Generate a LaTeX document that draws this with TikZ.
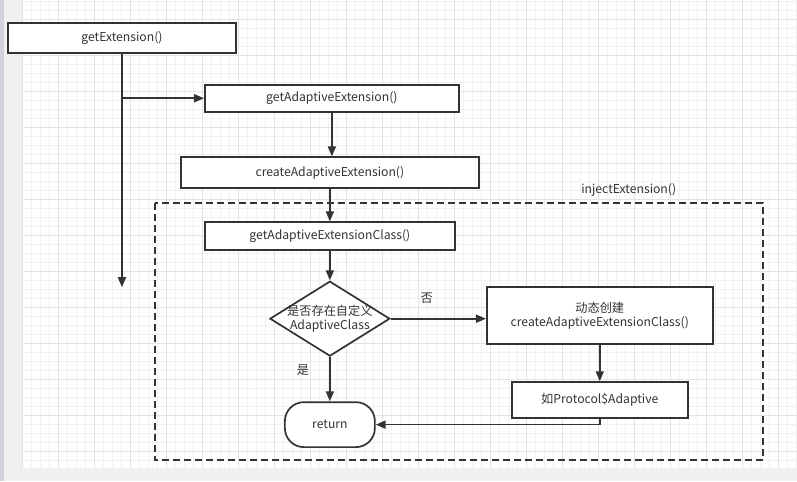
\documentclass[tikz,border=0pt]{standalone}
\usepackage{fontspec}
\setmainfont{Noto Sans CJK SC}
\usepackage{xcolor}
\usepackage{tikz}
\usetikzlibrary{arrows.meta,shapes.geometric}
\definecolor{ink}{HTML}{333333}
\definecolor{page}{HTML}{F0F0F0}
\definecolor{edge}{HTML}{D2D2D8}
\definecolor{gridf}{HTML}{F1F1F1}
\definecolor{gridc}{HTML}{E3E3E3}
\tikzset{
  box/.style={draw=ink, line width=1.7pt, fill=white, inner sep=0pt},
  dia/.style={diamond, draw=ink, line width=1.7pt, fill=white, inner sep=0pt},
  rnd/.style={draw=ink, line width=1.7pt, fill=white, rounded corners=19pt, inner sep=0pt},
  arr/.style={draw=ink, line width=1.7pt, -{Triangle[length=10pt,width=8pt]}},
  frame/.style={draw=ink, line width=1.7pt, dash pattern=on 7pt off 4pt},
  lab/.style={text=ink, font=\fontsize{12.2}{14}\selectfont},
  every node/.style={text=ink, font=\fontsize{12.2}{14}\selectfont}
}
\begin{document}
\begin{tikzpicture}[x=1pt,y=-1pt]
  % page and grid
  \fill[page] (0,0) rectangle (797,481);
  \fill[edge] (0,0) rectangle (4,481);
  \fill[white] (22.7,0) rectangle (797,468);
  \foreach \i in {0,...,86} {
    \draw[gridf, line width=0.6pt] (22.7+9*\i,0) -- (22.7+9*\i,468);
  }
  \foreach \j in {0,...,51} {
    \draw[gridf, line width=0.6pt] (22.7,0.7+9*\j) -- (797,0.7+9*\j);
  }
  \foreach \i in {0,...,21} {
    \draw[gridc, line width=0.6pt] (22.7+36*\i,0) -- (22.7+36*\i,468);
  }
  \foreach \j in {0,...,12} {
    \draw[gridc, line width=0.6pt] (22.7,18.7+36*\j) -- (797,18.7+36*\j);
  }

  % injectExtension frame
  \draw[frame] (155,203) rectangle (763,460);
  \node[lab, anchor=west] (inj) at (578,190) {injectExtension()};

  % steps
  \node[box, minimum width=228pt, minimum height=30pt] (ext) at (122,38) {getExtension()};
  \node[box, minimum width=254pt, minimum height=27pt] (adp) at (332,98) {getAdaptiveExtension()};
  \node[box, minimum width=298pt, minimum height=31pt] (cre) at (330,172.5) {createAdaptiveExtension()};
  \node[box, minimum width=250pt, minimum height=28pt] (cls) at (330,236) {getAdaptiveExtensionClass()};
  \node[dia, minimum width=120pt, minimum height=75pt] (dec) at (330,318.5) {};
  \node[align=center] (dect) at (dec) {是否存在自定义\\AdaptiveClass};
  \node[box, align=center, minimum width=226pt, minimum height=57pt] (dyn) at (600,315.5) {动态创建\\createAdaptiveExtensionClass()};
  \node[box, minimum width=176pt, minimum height=36pt] (pro) at (600,400) {如Protocol\$Adaptive};
  \node[rnd, minimum width=90pt, minimum height=45pt] (ret) at (330,424.5) {return};
  \coordinate (tail) at (122,287);

  % connectors
  \draw[arr] (ext.south) -- (tail);
  \draw[arr] (ext.south |- adp.west) -- (adp.west);
  \draw[arr] (adp.south) -- (adp.south |- cre.north);
  \draw[arr] (cre.south) -- (cls.north);
  \draw[arr] (cls.south) -- (dec.north);
  \draw[arr] (dec.east) -- (dec.east -| dyn.west);
  \draw[arr] (dyn.south) -- (pro.north);
  \draw[arr] (pro.south) |- (ret.east);
  \draw[arr] (dec.south) -- (ret.north);

  \node[lab] (no) at (427,298) {否};
  \node[lab] (yes) at (303,370) {是};
\end{tikzpicture}
\end{document}
